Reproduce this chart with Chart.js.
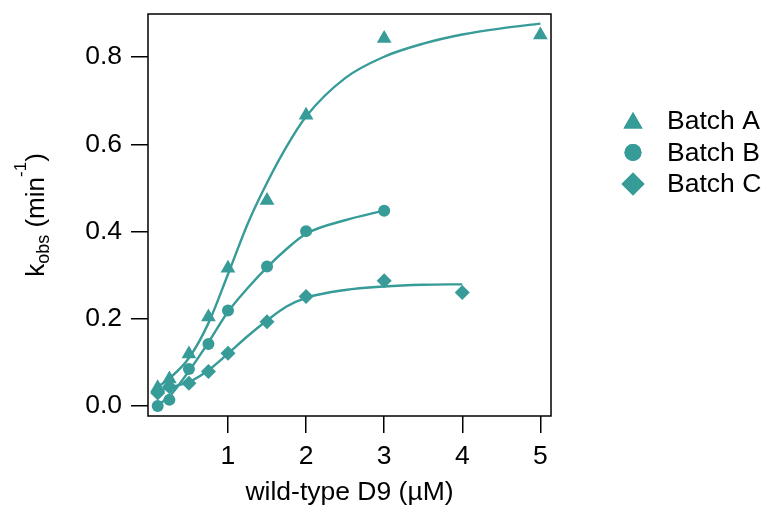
<!DOCTYPE html>
<html>
<head>
<meta charset="utf-8">
<script src="https://cdn.jsdelivr.net/npm/chart.js@4.4.1/dist/chart.umd.min.js"></script>
<style>
  html, body { margin: 0; padding: 0; background: #ffffff; }
  canvas { display: block; }
</style>
</head>
<body>
<canvas id="chart" width="768" height="513"></canvas>
<script>
// Observed rate constants (kobs, min^-1) versus wild-type D9 concentration (µM)
const concA = [0.1, 0.25, 0.5, 0.75, 1, 1.5, 2, 3, 5];
const kobsA = [0.042, 0.062, 0.119, 0.204, 0.316, 0.471, 0.667, 0.843, 0.851];

const concB = [0.1, 0.25, 0.5, 0.75, 1, 1.5, 2, 3];
const kobsB = [0.0, 0.014, 0.085, 0.142, 0.219, 0.320, 0.401, 0.448];

const concC = [0.1, 0.25, 0.5, 0.75, 1, 1.5, 2, 3, 4];
const kobsC = [0.030, 0.044, 0.052, 0.079, 0.121, 0.193, 0.251, 0.287, 0.260];

// Fitted curves, sampled along each concentration range
const fitConcA = [0.1, 0.25, 0.5, 0.75, 1, 1.25, 1.5, 1.75, 2, 2.5, 3, 3.5, 4, 4.5, 5];
const fitA     = [0.044, 0.063, 0.110, 0.190, 0.302, 0.417, 0.512, 0.595, 0.664, 0.752, 0.801, 0.831, 0.852, 0.866, 0.877];

const fitConcB = [0.1, 0.25, 0.5, 0.75, 1, 1.25, 1.5, 1.75, 2, 2.5, 3];
const fitB     = [0.002, 0.022, 0.080, 0.146, 0.216, 0.270, 0.318, 0.360, 0.395, 0.426, 0.448];

const fitConcC = [0.1, 0.25, 0.5, 0.75, 1, 1.25, 1.5, 1.75, 2, 2.5, 3, 3.5, 4];
const fitC     = [0.033, 0.042, 0.055, 0.082, 0.120, 0.160, 0.196, 0.228, 0.248, 0.266, 0.274, 0.278, 0.279];

const seriesNames = ['Batch A', 'Batch B', 'Batch C'];
const markerStyles = ['triangle', 'circle', 'rectRot'];
const xTickValues = [1, 2, 3, 4, 5];
const yTickValues = [0, 0.2, 0.4, 0.6, 0.8];

const TEAL = '#379b98';
const FONT = '"Liberation Sans", Arial, Helvetica, sans-serif';
const LABEL_SIZE = 26.5;

const toPoints = (xs, ys) => xs.map((x, i) => ({ x: x, y: ys[i] }));

function markerSet(label, xs, ys, style, radius) {
  return {
    type: 'scatter', label: label, data: toPoints(xs, ys),
    pointStyle: style, pointRadius: radius, pointHoverRadius: radius,
    backgroundColor: TEAL, borderColor: TEAL, borderWidth: 0,
    showLine: false, clip: false, order: 0
  };
}
function curveSet(xs, ys) {
  return {
    type: 'line', data: toPoints(xs, ys),
    borderColor: TEAL, borderWidth: 2.4, pointRadius: 0,
    cubicInterpolationMode: 'monotone', fill: false, clip: false, order: 1
  };
}

// Black frame around the plotting area
const plotFrame = {
  id: 'plotFrame',
  beforeDatasetsDraw(chart) {
    const { ctx, chartArea: a } = chart;
    ctx.save();
    ctx.strokeStyle = '#000';
    ctx.lineWidth = 1.5;
    ctx.strokeRect(a.left, a.top, a.right - a.left, a.bottom - a.top);
    ctx.restore();
  }
};

// Rotated y-axis title with subscript and superscript
const yAxisTitle = {
  id: 'yAxisTitle',
  afterDraw(chart) {
    const ctx = chart.ctx;
    const parts = [
      { t: 'k', s: 26, dy: 0 },
      { t: 'obs', s: 18, dy: 5 },
      { t: ' (min', s: 26, dy: 0 },
      { t: '-1', s: 17, dy: -18 },
      { t: ')', s: 26, dy: 0 }
    ];
    ctx.save();
    let total = 0;
    parts.forEach(p => { ctx.font = p.s + 'px ' + FONT; p.w = ctx.measureText(p.t).width; total += p.w; });
    ctx.translate(44, 215);
    ctx.rotate(-Math.PI / 2);
    ctx.fillStyle = '#000';
    ctx.textBaseline = 'alphabetic';
    ctx.textAlign = 'left';
    let u = -total / 2;
    parts.forEach(p => { ctx.font = p.s + 'px ' + FONT; ctx.fillText(p.t, u, p.dy); u += p.w; });
    ctx.restore();
  }
};

// Legend at the right of the plot
const sideLegend = {
  id: 'sideLegend',
  afterDraw(chart) {
    const ctx = chart.ctx;
    const radii = [11, 8.5, 11.5];
    ctx.save();
    seriesNames.forEach((name, i) => {
      const y = 121 + i * 31.5;
      ctx.fillStyle = TEAL;
      Chart.helpers.drawPoint(ctx, { pointStyle: markerStyles[i], radius: radii[i], rotation: 0, borderWidth: 0 }, 633, y + (i === 0 ? 2 : 0));
      ctx.fill();
      ctx.fillStyle = '#000';
      ctx.font = LABEL_SIZE + 'px ' + FONT;
      ctx.textBaseline = 'middle';
      ctx.textAlign = 'left';
      ctx.fillText(name, 667, y + 1);
    });
    ctx.restore();
  }
};

new Chart(document.getElementById('chart'), {
  data: {
    datasets: [
      markerSet(seriesNames[0], concA, kobsA, markerStyles[0], 8.5),
      markerSet(seriesNames[1], concB, kobsB, markerStyles[1], 6),
      markerSet(seriesNames[2], concC, kobsC, markerStyles[2], 7.5),
      curveSet(fitConcA, fitA),
      curveSet(fitConcB, fitB),
      curveSet(fitConcC, fitC)
    ]
  },
  options: {
    responsive: false,
    animation: false,
    devicePixelRatio: 1,
    layout: { padding: { left: 0, right: 217, top: 14, bottom: 0 } },
    plugins: { legend: { display: false }, tooltip: { enabled: false } },
    scales: {
      x: {
        type: 'linear', position: 'bottom',
        min: -0.024, max: 5.136,
        afterBuildTicks: s => { s.ticks = xTickValues.map(v => ({ value: v })); },
        afterFit: s => { s.height = 97; s.paddingLeft = 0; s.paddingRight = 0; },
        border: { display: false },
        grid: { drawOnChartArea: false, drawTicks: true, tickLength: 17, color: '#000', lineWidth: 1.5 },
        ticks: { color: '#000', padding: 10, font: { family: FONT, size: LABEL_SIZE, lineHeight: 1 }, maxRotation: 0, callback: v => String(v) },
        title: { display: true, text: 'wild-type D9 (µM)', color: '#000', font: { family: FONT, size: LABEL_SIZE, lineHeight: 1.2 }, padding: { top: 0, bottom: 4 } }
      },
      y: {
        type: 'linear', position: 'left',
        min: -0.023, max: 0.899,
        afterBuildTicks: s => { s.ticks = yTickValues.map(v => ({ value: v })); },
        afterFit: s => { s.width = 148; s.paddingTop = 0; s.paddingBottom = 0; },
        border: { display: false },
        grid: { drawOnChartArea: false, drawTicks: true, tickLength: 17, color: '#000', lineWidth: 1.5 },
        ticks: { color: '#000', padding: 9, font: { family: FONT, size: LABEL_SIZE, lineHeight: 1 }, callback: v => v.toFixed(1) }
      }
    }
  },
  plugins: [plotFrame, yAxisTitle, sideLegend]
});
</script>
</body>
</html>
